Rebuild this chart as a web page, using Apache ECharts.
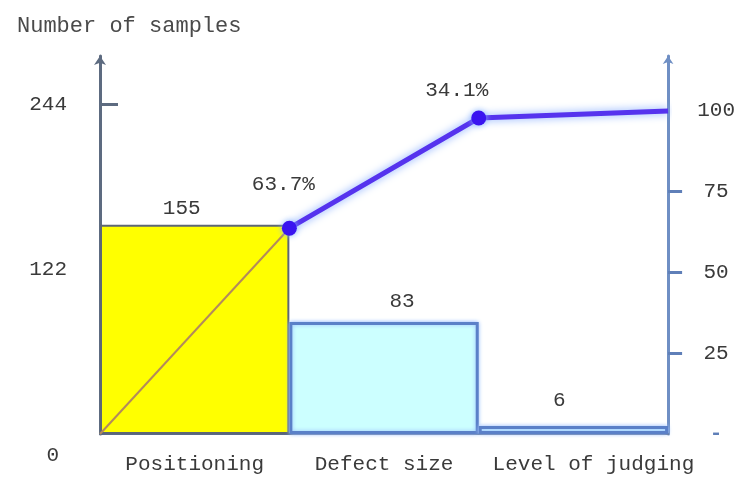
<!DOCTYPE html>
<html>
<head>
<meta charset="utf-8">
<script src="https://cdn.jsdelivr.net/npm/echarts@6/dist/echarts.min.js"></script>
<style>
  html, body { margin: 0; padding: 0; background: #fff; }
  #chart { width: 738px; height: 481px; }
</style>
</head>
<body>
<div id="chart"></div>
<script>
// data
const categories = ['Positioning', 'Defect size', 'Level of judging']
const counts = [155, 83, 6]
const cumulative = [0, 63.7, 97.8, 100]   // % at each bar boundary
const shares = ['63.7%', '34.1%', '2.2%']
const leftTicks = [0, 122, 244]
const rightTicks = [0, 25, 50, 75, 100]

const FONT = 'Liberation Mono'
const TEXT = '#3a3a3a'

// label nudges so they sit where the original puts them
const barLabelPos = [
  { offset: [-13, 0], distance: 6 },
  { offset: [18, 0], distance: 10 },
  { offset: [-14, 0], distance: 15 }
]
const lineLabelPos = [
  { offset: [-6, 0], distance: 26 },
  { offset: [-22, 0], distance: 10 },
  { offset: [-57, 0], distance: 12 }
]

const chart = echarts.init(document.getElementById('chart'))

const barData = counts.map((v, i) => ({
  value: v,
  itemStyle: i === 0
    ? { color: '#ffff00', borderColor: '#5d6676', borderWidth: 2 }
    : { color: '#ccffff', borderColor: '#5a80c8', borderWidth: 3, shadowColor: '#9cc0ff', shadowBlur: 4 },
  label: { show: true, position: 'top', ...barLabelPos[i] }
}))

const blueData = cumulative.slice(1).map((v, i) => ({
  value: [i + 1, v],
  symbol: i < 2 ? 'circle' : 'none',
  label: { show: true, position: 'top', formatter: shares[i], ...lineLabelPos[i] }
}))

const option = {
  animation: false,
  title: {
    text: 'Number of samples',
    left: 12,
    top: 10,
    textStyle: { fontFamily: FONT, fontSize: 22, fontWeight: 'normal', color: '#4a4a4a' }
  },
  grid: { left: 100, right: 65, top: 56, bottom: 47 },
  xAxis: [
    {
      type: 'category',
      data: categories.map((c, i) => i === 2 ? { value: c, textStyle: { padding: [0, 0, 0, 40] } } : c),
      axisLine: { lineStyle: { color: '#5a6a88', width: 2 } },
      axisTick: { show: false },
      axisLabel: { margin: 20, fontFamily: FONT, fontSize: 21, color: TEXT, interval: 0 }
    },
    { type: 'value', min: 0, max: 3, show: false }
  ],
  yAxis: [
    {
      type: 'value',
      min: 0,
      max: 280,
      splitLine: { show: false },
      axisLine: {
        show: true,
        symbol: ['none', 'arrow'],
        symbolSize: [9, 9],
        lineStyle: { color: '#5d6b80', width: 3 }
      },
      axisTick: { show: true, inside: true, length: 18, customValues: [122, 244], lineStyle: { color: '#5d6b80', width: 3 } },
      axisLabel: {
        customValues: leftTicks,
        margin: 33,
        fontFamily: FONT,
        fontSize: 21,
        color: TEXT,
        formatter: v => v === 0 ? '{z|0}' : String(v),
        rich: { z: { fontFamily: FONT, fontSize: 21, color: TEXT, padding: [42, 8, 0, 0] } }
      }
    },
    {
      type: 'value',
      min: 0,
      max: 117,
      position: 'right',
      splitLine: { show: false },
      axisLine: {
        show: true,
        symbol: ['none', 'arrow'],
        symbolSize: [8, 8],
        lineStyle: { color: '#6f8fc4', width: 3 }
      },
      axisTick: { show: true, length: 14, customValues: [25, 50, 75], lineStyle: { color: '#5f7fb8', width: 3 } },
      axisLabel: {
        customValues: rightTicks,
        margin: 48,
        align: 'center',
        fontFamily: FONT,
        fontSize: 21,
        color: TEXT,
        formatter: v => v === 0 ? '{d|-}' : String(v),
        rich: { d: { fontFamily: FONT, fontSize: 21, color: '#5f7fb8', fontWeight: 'bold' } }
      }
    }
  ],
  series: [
    {
      type: 'bar',
      xAxisIndex: 0,
      yAxisIndex: 0,
      barCategoryGap: 0,
      data: barData,
      label: { fontFamily: FONT, fontSize: 21, color: TEXT },
      z: 2
    },
    {
      type: 'line',
      xAxisIndex: 1,
      yAxisIndex: 1,
      data: cumulative.slice(0, 2).map((v, i) => [i, v]),
      showSymbol: false,
      lineStyle: { color: '#b38a5c', width: 2 },
      z: 3
    },
    {
      type: 'line',
      xAxisIndex: 1,
      yAxisIndex: 1,
      data: blueData,
      symbolSize: 15,
      itemStyle: { color: '#3a14f0', shadowColor: '#8ab4ff', shadowBlur: 6 },
      lineStyle: { color: '#5533ee', width: 5, shadowColor: '#7fa8ff', shadowBlur: 8 },
      label: { fontFamily: FONT, fontSize: 21, color: TEXT },
      z: 4
    }
  ]
}

chart.setOption(option)
</script>
</body>
</html>
